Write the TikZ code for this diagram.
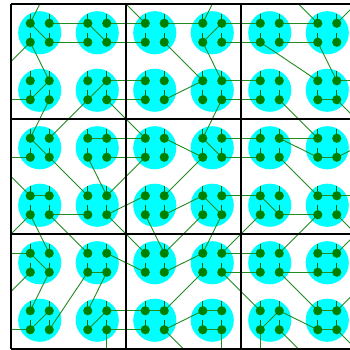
\documentclass[tikz,border=0pt]{standalone}
\usepackage{tikz}
\definecolor{padcyan}{RGB}{0,255,255}
\definecolor{wiregreen}{RGB}{34,139,34}
\definecolor{dotgreen}{RGB}{0,128,0}
\definecolor{stemgreen}{RGB}{0,100,0}

\begin{document}
\begin{tikzpicture}[x=1cm, y=-1cm,
  pad/.style={fill=padcyan},
  wire/.style={draw=wiregreen, line width=0.9pt},
  stem/.style={draw=stemgreen, line width=0.9pt},
  qdot/.style={circle, fill=dotgreen, inner sep=0pt, minimum size=0.32cm},
  cellline/.style={draw=black, line width=1.3pt}]
\useasboundingbox (-0.383,-0.139) rectangle (11.791,12.035);
\fill[white] (-0.383,-0.139) rectangle (11.791,12.035);
% dot positions, one row/column beyond the grid for the wrapped ends
\foreach \i in {-1,...,12}
  \foreach \j in {-1,...,12}
    \coordinate (p\i-\j) at ({\i+0.5+0.17*cos(180*\i)},{\j+0.5+0.17*cos(180*\j)});
\begin{scope}
\clip (0,0) rectangle (12,12);
\foreach \c in {0,...,5}
  \foreach \r in {0,...,5}
    \fill[pad] (2*\c+1,2*\r+1) circle (0.75);
% connectors
\foreach \a/\b/\c/\d in {0/0/1/-1, 0/0/1/1, 1/0/2/0, 1/1/2/1, 2/0/3/1, 3/0/4/0,
    3/1/4/1, 0/1/-1/2, 0/1/1/2, 1/2/0/3, 0/3/-1/3, 1/3/0/4, 3/2/2/3, 3/2/4/2,
    3/3/4/3, 2/3/1/4, 3/3/4/4, 4/0/3/-1, 5/0/6/0, 5/1/6/2, 6/0/7/-1, 7/0/6/1,
    7/0/8/0, 7/1/8/1, 6/1/7/2, 5/3/6/2, 7/2/8/2, 7/3/6/4, 7/3/8/3, 9/0/10/0,
    9/1/10/1, 8/1/10/2, 10/0/9/-1, 11/0/12/-1, 10/1/11/2, 11/2/12/2, 10/3/11/3,
    11/3/12/4, 9/3/10/4}
  \draw[wire] (p\a-\b) -- (p\c-\d);
\foreach \a/\b/\c/\d in {0/4/1/5, 0/5/-1/5, 1/5/2/6, 2/4/3/4, 3/4/4/4, 3/5/4/5,
    2/5/3/6, 0/6/-1/5, 0/6/1/6, 0/7/-1/8, 0/7/1/8, 1/7/2/8, 1/7/2/7, 3/6/4/5,
    3/7/4/6, 3/7/4/8, 5/4/6/5, 6/4/7/5, 6/5/5/6, 7/4/8/4, 7/5/8/5, 4/7/5/8,
    5/7/6/6, 6/6/7/7, 7/6/8/6, 6/7/5/8, 7/7/6/8, 9/4/10/4, 9/4/10/5, 9/5/10/6,
    10/5/11/5, 11/5/12/4, 8/6/9/7, 9/7/10/7, 8/7/7/8, 10/6/11/6,
    11/6/12/6, 10/7/9/8, 11/7/12/8}
  \draw[wire] (p\a-\b) -- (p\c-\d);
\foreach \a/\b/\c/\d in {0/8/-1/8, 0/8/1/9, 0/9/-1/10, 1/9/0/10, 3/8/4/9, 2/9/3/9,
    1/11/2/9, 3/9/2/10, 1/10/0/11, 0/11/-1/11, 3/10/2/11, 3/10/4/10, 3/11/4/11,
    3/11/3/12, 4/10/5/10, 6/8/5/9, 7/8/8/8, 7/9/8/9, 6/9/5/10, 7/9/8/10,
    9/9/10/9, 9/9/10/10, 10/8/11/8, 11/8/12/7, 10/9/11/9, 6/10/7/10, 6/11/7/11,
    6/10/5/11, 7/11/7/12, 5/11/6/12, 9/10/8/11, 8/11/8/12, 9/11/10/12,
    9/10/10/11, 10/10/11/10, 10/11/11/11, 11/10/12/9, 11/11/12/12}
  \draw[wire] (p\a-\b) -- (p\c-\d);
% qubit dots with their stems
\foreach \i in {0,...,11}
  \foreach \j in {0,...,11} {
    \draw[stem] (p\i-\j) -- ++(0,-0.33);
    \node[qdot] (d\i-\j) at (p\i-\j) {};
  }
\end{scope}
% cell borders
\foreach \k in {0,4,8,12} {
  \draw[cellline] (\k,0) -- (\k,12);
  \draw[cellline] (0,\k) -- (12,\k);
}
\end{tikzpicture}
\end{document}
